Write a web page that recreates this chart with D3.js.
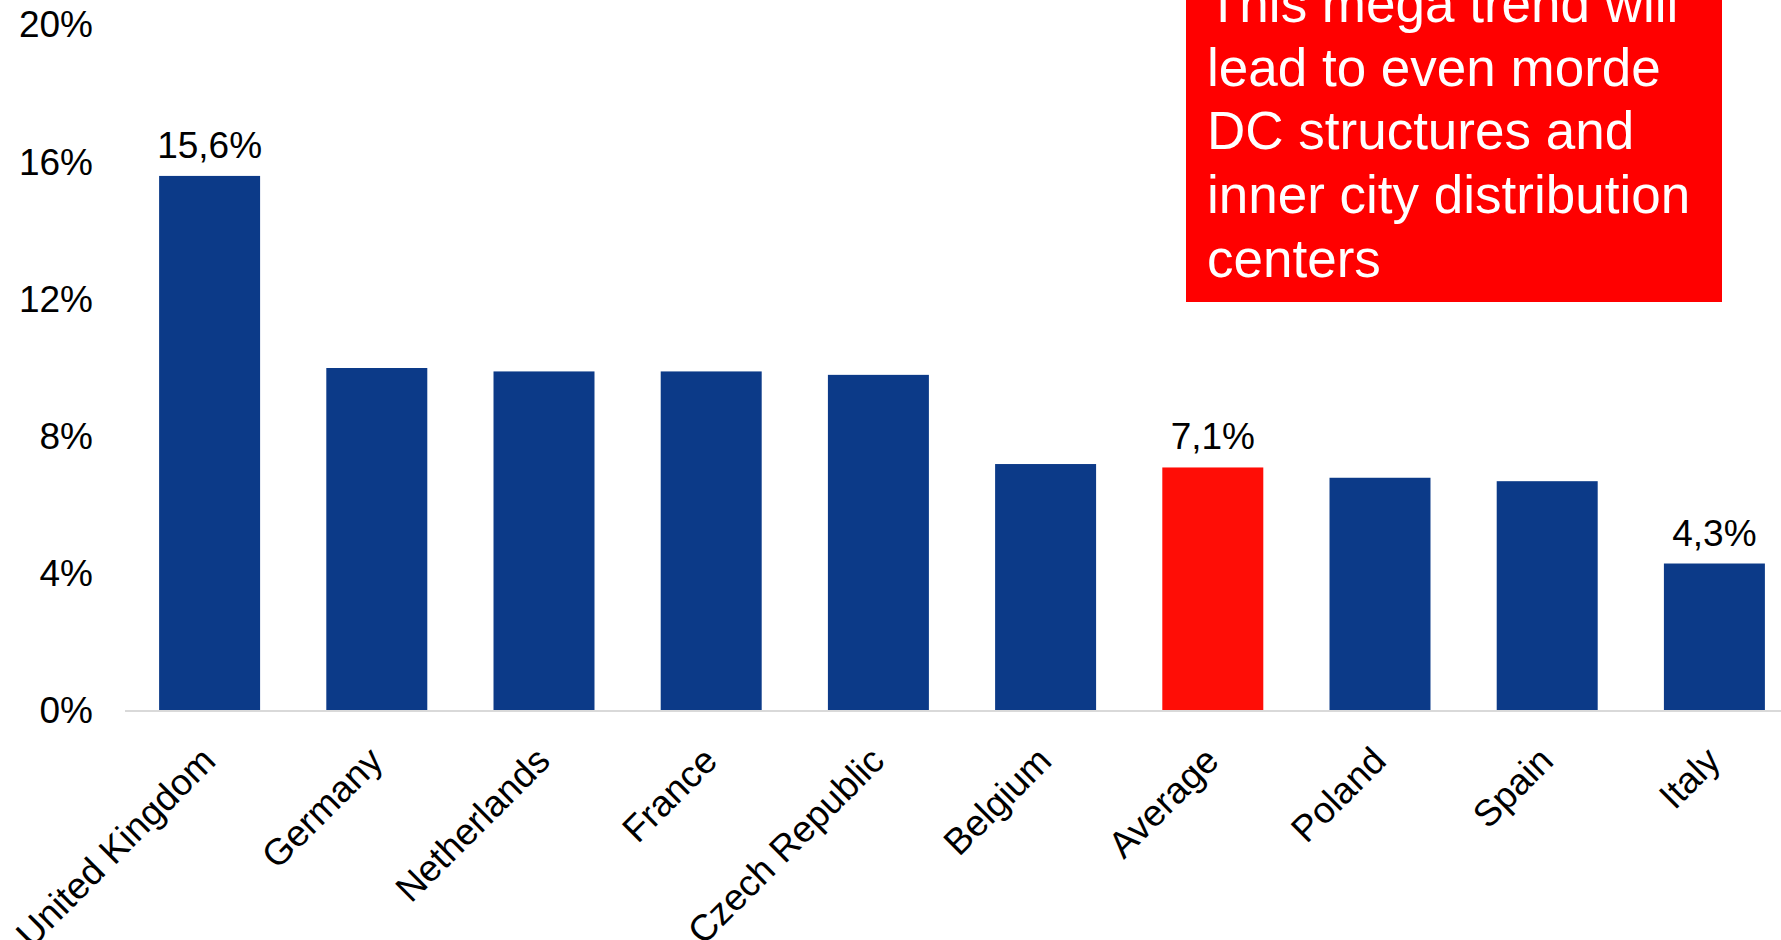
<!DOCTYPE html>
<html>
<head>
<meta charset="utf-8">
<script src="https://cdn.jsdelivr.net/npm/d3@7"></script>
<style>
  html, body { margin: 0; padding: 0; background: #ffffff; overflow: hidden; }
  svg { display: block; font-family: "Liberation Sans", Arial, sans-serif; }
</style>
</head>
<body>
<svg id="chart" width="1781" height="940"></svg>
<script>
// ---- data ----
const categories = ["United Kingdom", "Germany", "Netherlands", "France", "Czech Republic",
                    "Belgium", "Average", "Poland", "Spain", "Italy"];
const values = [15.6, 10.0, 9.9, 9.9, 9.8, 7.2, 7.1, 6.8, 6.7, 4.3];
const highlighted = ["Average"];
const labelled = { "United Kingdom": "15,6%", "Average": "7,1%", "Italy": "4,3%" };
const yTicks = [0, 4, 8, 12, 16, 20];
const yTickLabels = ["0%", "4%", "8%", "12%", "16%", "20%"];
const calloutLines = ["This mega trend will", "lead to even morde", "DC structures and",
                      "inner city distribution", "centers"];

// ---- layout ----
const svg = d3.select("#chart");
const W = 1781, H = 940;
const x = d3.scaleBand().domain(categories).range([126, 1798]).paddingInner(0.396).paddingOuter(0.198);
const y = d3.scaleLinear().domain([0, 20]).range([711, 25]);

const blue = "#0c3a88", barRed = "#ff0d06", boxRed = "#ff0000";
const fs = 37;

// bars
svg.append("g").selectAll("rect").data(categories).join("rect")
  .attr("x", d => x(d))
  .attr("width", x.bandwidth())
  .attr("y", (d, i) => y(values[i]))
  .attr("height", (d, i) => y(0) - y(values[i]))
  .attr("fill", d => highlighted.includes(d) ? barRed : blue);

// x axis baseline
const xAxis = d3.axisBottom(x).tickSize(0).tickFormat("");
const gx = svg.append("g").attr("transform", `translate(0,${y(0)})`).call(xAxis);
gx.select(".domain").attr("stroke", "#d9d9d9").attr("stroke-width", 2)
  .attr("d", `M125,0H${W}`);

// category labels
svg.append("g").selectAll("text").data(categories).join("text")
  .attr("transform", d => `translate(${x(d) + x.bandwidth() / 2 + 8},${y(0) + 52}) rotate(-45)`)
  .attr("text-anchor", "end")
  .attr("font-size", fs)
  .attr("fill", "#000")
  .text(d => d);

// y axis
const yAxis = d3.axisLeft(y).tickValues(yTicks).tickSize(0).tickPadding(0)
  .tickFormat((d, i) => yTickLabels[i]);
const gy = svg.append("g").attr("transform", "translate(93,0)").call(yAxis);
gy.select(".domain").remove();
gy.selectAll("text").attr("font-size", fs).attr("fill", "#000")
  .attr("font-family", "'Liberation Sans', Arial, sans-serif");

// value labels
svg.append("g").selectAll("text").data(categories.filter(c => labelled[c])).join("text")
  .attr("x", d => x(d) + x.bandwidth() / 2)
  .attr("y", d => y(values[categories.indexOf(d)]) - 18)
  .attr("text-anchor", "middle")
  .attr("font-size", fs)
  .attr("fill", "#000")
  .text(d => labelled[d]);

// callout box
svg.append("rect").attr("x", 1186).attr("y", -200).attr("width", 536).attr("height", 502)
  .attr("fill", boxRed);
svg.append("g").selectAll("text").data(calloutLines).join("text")
  .attr("x", 1207)
  .attr("y", (d, i) => 22 + i * 63.7)
  .attr("font-size", 53)
  .attr("fill", "#fff")
  .text(d => d);
</script>
</body>
</html>
